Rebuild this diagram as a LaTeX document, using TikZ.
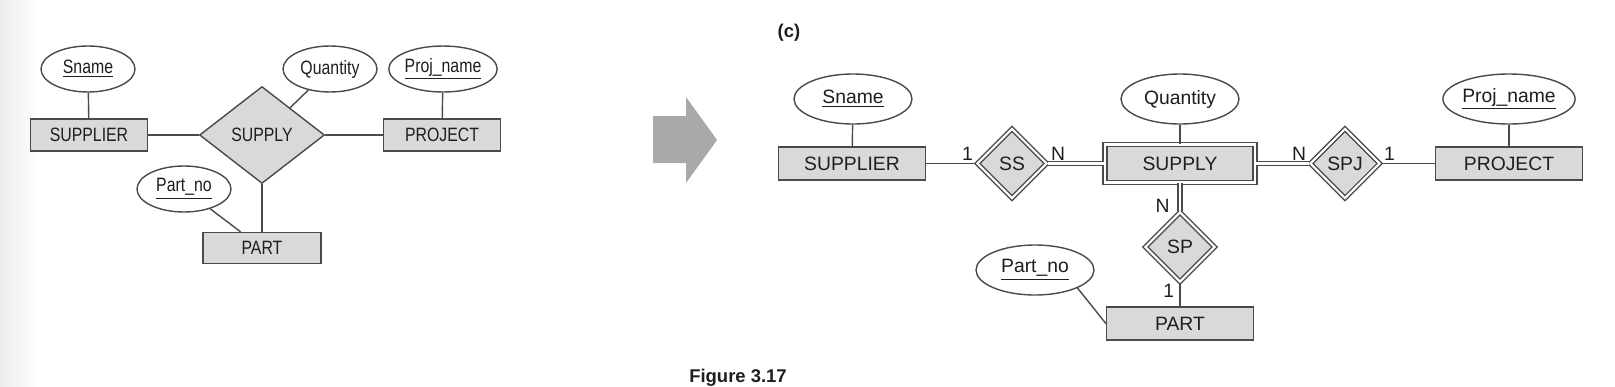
\documentclass[tikz,border=0pt]{standalone}
\usepackage{fontspec}
\setmainfont{Liberation Sans}
\newfontfamily\narrowfam[FakeStretch=0.82]{Liberation Sans}
\usepackage{tikz}
\usetikzlibrary{arrows.meta, positioning, shapes.geometric}

\definecolor{linegray}{HTML}{4A4A4A}
\definecolor{boxgray}{HTML}{D9D9D9}
\definecolor{arrowgray}{HTML}{A9A9A9}
\definecolor{textgray}{HTML}{1E1E1E}

\newcommand{\leftfont}{\narrowfam\fontsize{11pt}{13pt}\selectfont}
\newcommand{\rightfont}{\fontsize{11pt}{13pt}\selectfont}

\begin{document}
\begin{tikzpicture}[
    x=0.02cm, y=-0.02cm,
    ent/.style={rectangle,draw=linegray,fill=boxgray,line width=0.8pt,inner sep=0pt,text=textgray,font=\rightfont,minimum width=2.94cm,minimum height=0.66cm},
    attr/.style={ellipse,draw=linegray,fill=white,line width=0.8pt,inner sep=0pt,text=textgray,font=\rightfont,minimum width=2.36cm,minimum height=1.0cm},
    rel/.style={diamond,draw=linegray,fill=boxgray,line width=0.8pt,inner sep=0pt,text=textgray,font=\leftfont,minimum width=2.5cm,minimum height=1.94cm},
    wkent/.style={ent,double=white,double distance=1.5pt,minimum width=3.0cm,minimum height=0.77cm},
    idrel/.style={diamond,draw=linegray,fill=boxgray,line width=0.8pt,double=white,double distance=1.2pt,inner sep=0pt,text=textgray,font=\rightfont,minimum width=1.4cm,minimum height=1.4cm},
    lent/.style={ent,font=\leftfont,minimum width=2.34cm,minimum height=0.64cm},
    lattr/.style={attr,font=\leftfont,minimum width=1.88cm,minimum height=0.92cm},
    conn/.style={draw=linegray,line width=0.8pt},
    dconn/.style={conn,double=white,double distance=1.5pt},
    card/.style={font=\rightfont,text=textgray,inner sep=1.5pt}
]
\useasboundingbox (0,0) rectangle (1615,386);
\shade[left color=black!7, right color=white] (0,0) rectangle (40,386);

% before: ternary SUPPLY
\node[lattr] (sname1) at (88,69) {\underline{Sname}};
\node[lent] (supplier1) at (89,135) {SUPPLIER};
\node[rel] (supply1) at (262,135) {SUPPLY};
\node[lattr] (quantity1) at (330,69) {Quantity};
\node[lattr] (projname1) at (443,69) {\underline{Proj\_name}};
\node[lent] (project1) at (442,135) {PROJECT};
\node[lattr] (partno1) at (184,189) {\underline{Part\_no}};
\node[lent, minimum width=2.36cm, minimum height=0.62cm] (part1) at (262,248) {PART};

\draw[conn] (sname1) -- (supplier1);
\draw[conn] (supplier1) -- (supply1);
\draw[conn] (quantity1) -- (supply1);
\draw[conn] (supply1) -- (project1);
\draw[conn] (projname1) -- (project1);
\draw[conn] (supply1) -- (part1);
\draw[conn] (partno1) -- (part1);

% big arrow
\fill[arrowgray] (653,116) -- (686,116) -- (686,97) -- (717,140) -- (686,183) -- (686,163) -- (653,163) -- cycle;

% (c): SUPPLY as weak entity
\node[font=\bfseries\fontsize{10.5pt}{12pt}\selectfont, text=textgray] (clabel) at (789,33) {(c)};

\node[attr] (sname2) at (853,99) {\underline{Sname}};
\node[ent] (supplier2) at (852,163.5) {SUPPLIER};
\node[idrel] (ss) at (1012,163.5) {SS};
\node[wkent] (supply2) at (1180,163.5) {SUPPLY};
\node[attr] (quantity2) at (1180,99) {Quantity};
\node[idrel] (spj) at (1345,163.5) {SPJ};
\node[ent] (project2) at (1509,163.5) {PROJECT};
\node[attr] (projname2) at (1509,99) {\underline{Proj\_name}};
\node[idrel] (sp) at (1180,247) {SP};
\node[attr] (partno2) at (1035,270) {\underline{Part\_no}};
\node[ent] (part2) at (1180,323.5) {PART};

\draw[conn] (sname2) -- (supplier2);
\draw[conn] (supplier2) -- node[card, pos=1, above left] {1} (ss);
\draw[dconn] (ss) -- node[card, pos=0, above right] {N} (supply2);
\draw[conn] (quantity2) -- (supply2);
\draw[dconn] (supply2) -- node[card, pos=1, above left] {N} (spj);
\draw[conn] (spj) -- node[card, pos=0, above right] {1} (project2);
\draw[conn] (projname2) -- (project2);
\draw[dconn] (supply2) -- node[card, pos=0.8, left=4pt] {N} (sp);
\draw[conn] (sp) -- node[card, pos=0.35, left=1.5pt] {1} (part2);
\draw[conn] (partno2.-23) -- (part2.west);

\node[font=\bfseries\fontsize{10.5pt}{12pt}\selectfont, text=textgray, anchor=base] (caption) at (738,382) {Figure 3.17};

\end{tikzpicture}
\end{document}
